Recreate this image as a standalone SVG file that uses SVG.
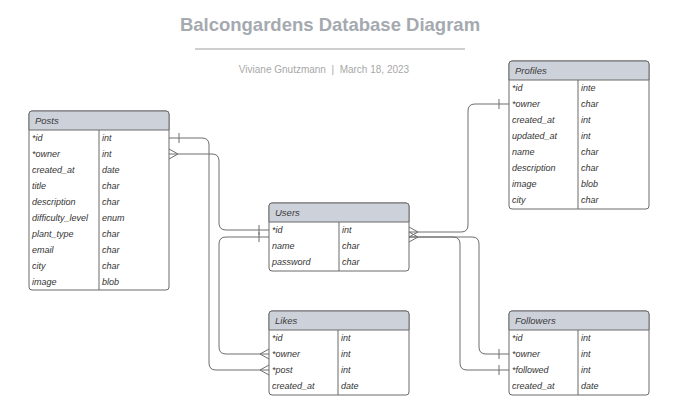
<svg xmlns="http://www.w3.org/2000/svg" width="690" height="419" viewBox="0 0 690 419">
<style>
.bg{fill:#ffffff}
.box{fill:#ffffff;stroke:#6a6a6a;stroke-width:1}
.hdr{fill:#cdd2da;stroke:#6a6a6a;stroke-width:1}
.div{stroke:#6a6a6a;stroke-width:1}
.t{font-family:"Liberation Sans",Arial,sans-serif;font-style:italic;font-size:9px;fill:#333333}
.h{font-family:"Liberation Sans",Arial,sans-serif;font-style:italic;font-size:9.5px;fill:#3a3a3a}
.c{fill:none;stroke:#6e6e6e;stroke-width:1}
.title{font-family:"Liberation Sans",Arial,sans-serif;font-weight:bold;font-size:18.5px;fill:#a5a9b0}
.sub{font-family:"Liberation Sans",Arial,sans-serif;font-size:10px;fill:#a8a8a8;white-space:pre}
</style>
<rect class="bg" x="0" y="0" width="690" height="419"/>
<g id="title">
<text class="title" x="330" y="31" text-anchor="middle">Balcongardens Database Diagram</text>
<line x1="195" y1="49" x2="465" y2="49" stroke="#cfcfcf" stroke-width="2"/>
<text class="sub" x="324" y="73" text-anchor="middle">Viviane Gnutzmann  |  March 18, 2023</text>
</g>
<g id="connectors">
<path class="c" d="M169,138 H202 Q209,138 209,145 V363 Q209,370 216,370 H269"/>
<line class="c" x1="179" y1="133" x2="179" y2="143"/>
<path class="c" d="M269,365 L260,370 L269,375"/>
<path class="c" d="M169,154 H212 Q219,154 219,161 V223 Q219,230 226,230 H269"/>
<path class="c" d="M169,149 L178,154 L169,159"/>
<line class="c" x1="259" y1="225" x2="259" y2="235"/>
<path class="c" d="M269,237 H226 Q219,237 219,244 V347 Q219,354 226,354 H269"/>
<line class="c" x1="259" y1="232" x2="259" y2="242"/>
<path class="c" d="M269,349 L260,354 L269,359"/>
<path class="c" d="M409,232 H461 Q468,232 468,225 V111 Q468,104 475,104 H509"/>
<path class="c" d="M409,227 L418,232 L409,237"/>
<line class="c" x1="499" y1="99" x2="499" y2="109"/>
<path class="c" d="M409,237 H453 Q460,237 460,244 V363 Q460,370 467,370 H509"/>
<path class="c" d="M409,237 H472 Q479,237 479,244 V347 Q479,354 486,354 H509"/>
<path class="c" d="M409,232 L418,237 L409,242"/>
<line class="c" x1="499" y1="349" x2="499" y2="359"/>
<line class="c" x1="499" y1="365" x2="499" y2="375"/>
</g>
<g id="posts">
<rect class="box" x="29" y="111" width="140" height="179" rx="3"/>
<path class="hdr" d="M29,130 V114 Q29,111 32,111 H166 Q169,111 169,114 V130 Z"/>
<line class="div" x1="99" y1="130" x2="99" y2="290"/>
<text class="h" x="35" y="124">Posts</text>
<text class="t" x="32" y="141">*id</text><text class="t" x="102" y="141">int</text>
<text class="t" x="32" y="157">*owner</text><text class="t" x="102" y="157">int</text>
<text class="t" x="32" y="173">created_at</text><text class="t" x="102" y="173">date</text>
<text class="t" x="32" y="189">title</text><text class="t" x="102" y="189">char</text>
<text class="t" x="32" y="205">description</text><text class="t" x="102" y="205">char</text>
<text class="t" x="32" y="221">difficulty_level</text><text class="t" x="102" y="221">enum</text>
<text class="t" x="32" y="237">plant_type</text><text class="t" x="102" y="237">char</text>
<text class="t" x="32" y="253">email</text><text class="t" x="102" y="253">char</text>
<text class="t" x="32" y="269">city</text><text class="t" x="102" y="269">char</text>
<text class="t" x="32" y="285">image</text><text class="t" x="102" y="285">blob</text>
</g>
<g id="users">
<rect class="box" x="269" y="203" width="140" height="68" rx="3"/>
<path class="hdr" d="M269,222 V206 Q269,203 272,203 H406 Q409,203 409,206 V222 Z"/>
<line class="div" x1="339" y1="222" x2="339" y2="271"/>
<text class="h" x="275" y="216">Users</text>
<text class="t" x="272" y="233">*id</text><text class="t" x="342" y="233">int</text>
<text class="t" x="272" y="249">name</text><text class="t" x="342" y="249">char</text>
<text class="t" x="272" y="265">password</text><text class="t" x="342" y="265">char</text>
</g>
<g id="profiles">
<rect class="box" x="509" y="61" width="140" height="148" rx="3"/>
<path class="hdr" d="M509,80 V64 Q509,61 512,61 H646 Q649,61 649,64 V80 Z"/>
<line class="div" x1="578" y1="80" x2="578" y2="209"/>
<text class="h" x="515" y="74">Profiles</text>
<text class="t" x="512" y="91">*id</text><text class="t" x="581" y="91">inte</text>
<text class="t" x="512" y="107">*owner</text><text class="t" x="581" y="107">char</text>
<text class="t" x="512" y="123">created_at</text><text class="t" x="581" y="123">int</text>
<text class="t" x="512" y="139">updated_at</text><text class="t" x="581" y="139">int</text>
<text class="t" x="512" y="155">name</text><text class="t" x="581" y="155">char</text>
<text class="t" x="512" y="171">description</text><text class="t" x="581" y="171">char</text>
<text class="t" x="512" y="187">image</text><text class="t" x="581" y="187">blob</text>
<text class="t" x="512" y="203">city</text><text class="t" x="581" y="203">char</text>
</g>
<g id="likes">
<rect class="box" x="269" y="311" width="140" height="84" rx="3"/>
<path class="hdr" d="M269,330 V314 Q269,311 272,311 H406 Q409,311 409,314 V330 Z"/>
<line class="div" x1="338" y1="330" x2="338" y2="395"/>
<text class="h" x="275" y="324">Likes</text>
<text class="t" x="272" y="341">*id</text><text class="t" x="341" y="341">int</text>
<text class="t" x="272" y="357">*owner</text><text class="t" x="341" y="357">int</text>
<text class="t" x="272" y="373">*post</text><text class="t" x="341" y="373">int</text>
<text class="t" x="272" y="389">created_at</text><text class="t" x="341" y="389">date</text>
</g>
<g id="followers">
<rect class="box" x="509" y="311" width="140" height="84" rx="3"/>
<path class="hdr" d="M509,330 V314 Q509,311 512,311 H646 Q649,311 649,314 V330 Z"/>
<line class="div" x1="578" y1="330" x2="578" y2="395"/>
<text class="h" x="515" y="324">Followers</text>
<text class="t" x="512" y="341">*id</text><text class="t" x="581" y="341">int</text>
<text class="t" x="512" y="357">*owner</text><text class="t" x="581" y="357">int</text>
<text class="t" x="512" y="373">*followed</text><text class="t" x="581" y="373">int</text>
<text class="t" x="512" y="389">created_at</text><text class="t" x="581" y="389">date</text>
</g>
</svg>
